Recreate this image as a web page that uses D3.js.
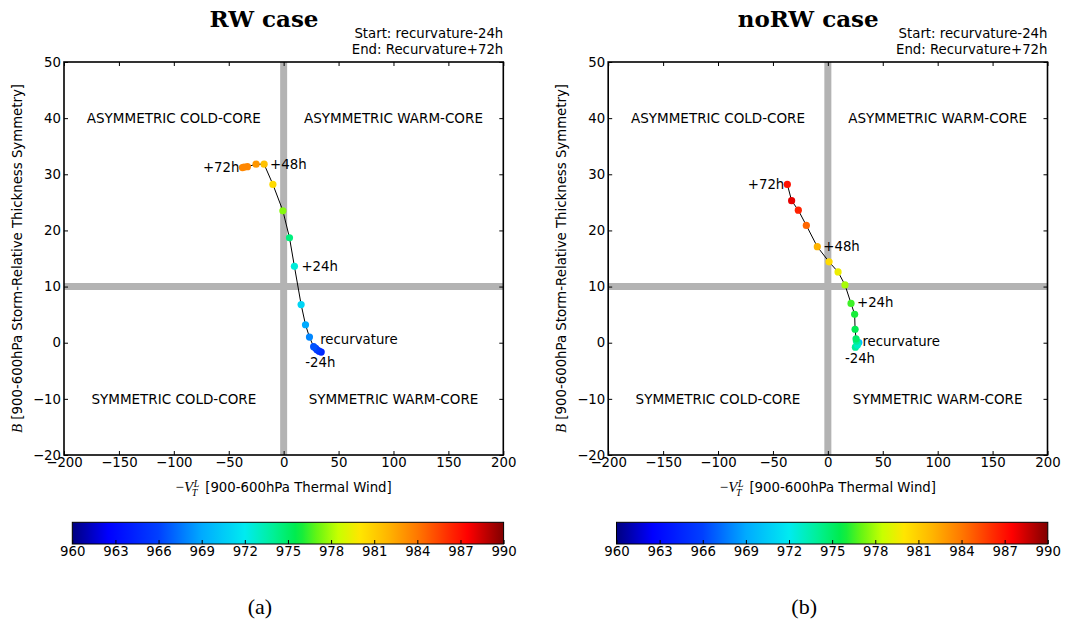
<!DOCTYPE html>
<html>
<head>
<meta charset="utf-8">
<script src="https://cdn.jsdelivr.net/npm/d3@7"></script>
<style>
  html, body { margin: 0; padding: 0; background: #fff; }
  svg { display: block; }
</style>
</head>
<body>
<script>
// ---- Cyclone phase space data (B vs -VT^L), 6-hourly from recurvature-24h to recurvature+72h ----
const rwVT  = [34.2, 32.3, 30.5, 29.2, 27.3, 23.5, 19.9, 15.9, 9.8, 5.3, -0.7, -9.8, -17.8, -25.1, -33.0, -36.0, -37.5];
const rwB   = [-1.66, -1.5, -1.3, -1.0, -0.7, 1.0, 3.2, 6.8, 13.6, 18.7, 23.5, 28.2, 31.8, 31.8, 31.35, 31.3, 31.2];
const rwP   = [964.5, 965, 965.5, 966, 966.5, 968, 969, 971, 972.5, 974.5, 977.5, 980.5, 981.5, 983, 983.5, 983.5, 983.5];

const norwVT = [25.1, 26.9, 28.2, 26.9, 26.0, 25.7, 24.8, 24.4, 21.1, 15.6, 9.3, 1.1, -9.6, -19.6, -26.9, -33.0, -36.9];
const norwB  = [-0.8, -0.4, 0.04, -0.2, 0.3, 0.7, 2.4, 5.06, 7.0, 10.3, 12.6, 14.4, 17.1, 20.9, 23.6, 25.3, 28.2];
const norwP  = [974, 973, 970, 973, 974, 975, 975.5, 976, 976.5, 978, 979.5, 980.5, 982, 984.5, 986.5, 988, 987];

// annotated track times
const markIndex = [0, 4, 8, 12, 16];
const markText  = ["-24h", "recurvature", "+24h", "+48h", "+72h"];

// axes ticks
const xTicks = [-200, -150, -100, -50, 0, 50, 100, 150, 200];
const yTicks = [-20, -10, 0, 10, 20, 30, 40, 50];
const cbarTicks = [960, 963, 966, 969, 972, 975, 978, 981, 984, 987, 990];

// quadrant names
const quadX = [-100, 100, -100, 100];
const quadB = [40, 40, -10, -10];
const quadText = ["ASYMMETRIC COLD-CORE", "ASYMMETRIC WARM-CORE", "SYMMETRIC COLD-CORE", "SYMMETRIC WARM-CORE"];

// jet-like colour map for MSLP (hPa)
const cmapP = [960, 962.5, 966, 969, 972, 974, 975.7, 977, 978.5, 980, 982, 984, 986, 987.5, 990];
const cmapC = ["#00007f", "#0000ff", "#0040ff", "#00aaff", "#00ebf0", "#00f096", "#00eb46", "#64f514",
               "#c8ff00", "#ffe600", "#ffb400", "#ff7800", "#ff3200", "#ff0000", "#800000"];

const color = d3.scaleLinear().domain(cmapP).range(cmapC).interpolate(d3.interpolateRgb).clamp(true);

const SANS = "'DejaVu Sans', sans-serif";
const SERIF = "'Liberation Serif', 'DejaVu Serif', serif";

const svg = d3.select("body").append("svg").attr("width", 1066).attr("height", 625);

const panels = [
  { dx: 0, title: "RW case", caption: "(a)", vt: rwVT, b: rwB, p: rwP,
    labelOffsets: [[-16, 10, "start"], [6.5, -7.5, "start"], [7, 0, "start"], [6, 0, "start"], [-3, 0, "end"]] },
  { dx: 544.2, title: "noRW case", caption: "(b)", vt: norwVT, b: norwB, p: norwP,
    labelOffsets: [[-10.5, 11.5, "start"], [6, 0, "start"], [6, -1, "start"], [6, 0, "start"], [-3, 0, "end"]] }
];

const gradId = "jetGrad";
const defs = svg.append("defs");
const grad = defs.append("linearGradient").attr("id", gradId).attr("x1", "0%").attr("x2", "100%").attr("y1", "0%").attr("y2", "0%");
d3.range(0, 61).forEach(i => {
  const pv = 960 + i * 0.5;
  grad.append("stop").attr("offset", (i / 60 * 100) + "%").attr("stop-color", color(pv));
});

function drawPanel(P) {
  const g = svg.append("g").attr("transform", `translate(${P.dx},0)`);
  const x = d3.scaleLinear().domain([-200, 200]).range([64, 503.3]);
  const y = d3.scaleLinear().domain([-20, 50]).range([455, 62]);

  // phase-space dividing lines
  g.append("line").attr("x1", x(0)).attr("x2", x(0)).attr("y1", y(-20)).attr("y2", y(50))
    .attr("stroke", "#b3b3b3").attr("stroke-width", 7);
  g.append("line").attr("x1", x(-200)).attr("x2", x(200)).attr("y1", y(10)).attr("y2", y(10))
    .attr("stroke", "#b3b3b3").attr("stroke-width", 7);

  // quadrant names
  g.selectAll("text.quad").data(quadText).join("text").attr("class", "quad")
    .attr("x", (d, i) => x(quadX[i])).attr("y", (d, i) => y(quadB[i]))
    .attr("text-anchor", "middle").attr("dominant-baseline", "central")
    .attr("font-family", SANS).attr("font-size", 13.5).attr("fill", "#000").text(d => d);

  const pts = P.vt.map((v, i) => ({ vt: v, b: P.b[i], p: P.p[i] }));

  // track
  g.append("path").datum(pts)
    .attr("d", d3.line().x(d => x(d.vt)).y(d => y(d.b)))
    .attr("fill", "none").attr("stroke", "#000").attr("stroke-width", 1);

  g.selectAll("circle.pt").data(pts).join("circle").attr("class", "pt")
    .attr("cx", d => x(d.vt)).attr("cy", d => y(d.b)).attr("r", 3.6)
    .attr("fill", d => color(d.p));

  // time annotations
  markIndex.forEach((idx, k) => {
    const off = P.labelOffsets[k];
    g.append("text")
      .attr("x", x(pts[idx].vt) + off[0]).attr("y", y(pts[idx].b) + off[1])
      .attr("text-anchor", off[2]).attr("dominant-baseline", "central")
      .attr("font-family", SANS).attr("font-size", 13.3).text(markText[k]);
  });

  // axes with inward ticks on all sides
  const styleAxis = sel => {
    sel.select(".domain").remove();
    sel.selectAll(".tick line").attr("stroke", "#000").attr("stroke-width", 1);
    sel.selectAll(".tick text").attr("font-family", SANS).attr("font-size", 13.3).attr("fill", "#000");
  };
  g.append("g").attr("transform", `translate(0,${y(-20)})`)
    .call(d3.axisBottom(x).tickValues(xTicks).tickSize(-4).tickPadding(3)).call(styleAxis);
  g.append("g").attr("transform", `translate(0,${y(50)})`)
    .call(d3.axisTop(x).tickValues(xTicks).tickSize(-4).tickFormat("")).call(styleAxis);
  g.append("g").attr("transform", `translate(${x(-200)},0)`)
    .call(d3.axisLeft(y).tickValues(yTicks).tickSize(-4).tickPadding(3)).call(styleAxis);
  g.append("g").attr("transform", `translate(${x(200)},0)`)
    .call(d3.axisRight(y).tickValues(yTicks).tickSize(-4).tickFormat("")).call(styleAxis);

  g.append("rect").attr("x", x(-200)).attr("y", y(50))
    .attr("width", x(200) - x(-200)).attr("height", y(-20) - y(50))
    .attr("fill", "none").attr("stroke", "#000").attr("stroke-width", 1.6);

  // titles
  g.append("text").attr("x", 264).attr("y", 27).attr("text-anchor", "middle")
    .attr("font-family", "'DejaVu Serif', serif").attr("font-weight", "bold").attr("font-size", 23)
    .text(P.title);
  g.append("text").attr("x", x(200)).attr("y", 38).attr("text-anchor", "end")
    .attr("font-family", SANS).attr("font-size", 13.3).text("Start: recurvature-24h");
  g.append("text").attr("x", x(200)).attr("y", 54).attr("text-anchor", "end")
    .attr("font-family", SANS).attr("font-size", 13.3).text("End: Recurvature+72h");

  // x-axis label:  -V_T^L  [900-600hPa Thermal Wind]
  const xl = g.append("g");
  const m = xl.append("text").attr("font-family", SERIF).attr("font-size", 15);
  m.append("tspan").text("\u2212");
  m.append("tspan").attr("font-style", "italic").text("V");
  const mw = m.node().getComputedTextLength();
  xl.append("text").attr("x", mw + 0.5).attr("y", -5).attr("font-family", SERIF).attr("font-style", "italic")
    .attr("font-size", 10).text("L");
  xl.append("text").attr("x", mw - 1.5).attr("y", 4).attr("font-family", SERIF).attr("font-style", "italic")
    .attr("font-size", 10).text("T");
  const rest = xl.append("text").attr("x", mw + 12).attr("font-family", SANS).attr("font-size", 13.3)
    .text("[900-600hPa Thermal Wind]");
  const totalW = mw + 12 + rest.node().getComputedTextLength();
  xl.attr("transform", `translate(${(x(-200) + x(200)) / 2 - totalW / 2},492)`);

  // y-axis label:  B [900-600hPa Storm-Relative Thickness Symmetry]
  const yl = g.append("text").attr("transform", `translate(22,${(y(-20) + y(50)) / 2}) rotate(-90)`)
    .attr("text-anchor", "middle").attr("font-family", SANS).attr("font-size", 13.3);
  yl.append("tspan").attr("font-family", SERIF).attr("font-style", "italic").attr("font-size", 15).text("B");
  yl.append("tspan").text(" [900-600hPa Storm-Relative Thickness Symmetry]");

  // colour bar
  const cx = d3.scaleLinear().domain([960, 990]).range([72.3, 503.6]);
  g.append("rect").attr("x", cx(960)).attr("y", 522.3).attr("width", cx(990) - cx(960)).attr("height", 21.7)
    .attr("fill", `url(#${gradId})`).attr("stroke", "#000").attr("stroke-width", 1);
  g.append("g").attr("transform", "translate(0,544)")
    .call(d3.axisBottom(cx).tickValues(cbarTicks).tickFormat(d3.format("d")).tickSize(-4).tickPadding(3))
    .call(styleAxis);

  // caption
  g.append("text").attr("x", 260).attr("y", 614).attr("text-anchor", "middle")
    .attr("font-family", SERIF).attr("font-size", 22).text(P.caption);
}

panels.forEach(drawPanel);
</script>
</body>
</html>
